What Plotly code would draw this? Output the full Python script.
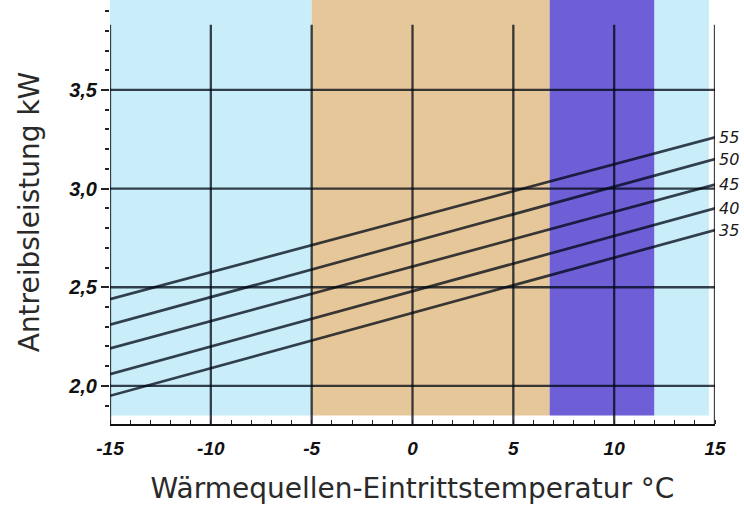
import plotly.graph_objects as go

# ---- data ----
x_ends = [-15, 15]
series_names = ["35", "40", "45", "50", "55"]
series_35 = [1.95, 2.79]
series_40 = [2.06, 2.90]
series_45 = [2.19, 3.02]
series_50 = [2.31, 3.15]
series_55 = [2.44, 3.26]
series_values = [series_35, series_40, series_45, series_50, series_55]

x_tick_vals = [-15, -10, -5, 0, 5, 10, 15]
x_tick_labels = ["-15", "-10", "-5", "0", "5", "10", "15"]
y_tick_vals = [2.0, 2.5, 3.0, 3.5]
y_tick_labels = ["2,0", "2,5", "3,0", "3,5"]

band_edges = [-15, -5, 6.8, 12, 14.7]
band_colors = ["#c9eef9", "#e6c799", "#6f5fd7", "#c9eef9"]

x_range = [-15, 15]
y_range = [1.807, 3.956]
grid_top = 3.83
band_bottom = 1.85

ink = "rgba(0,8,20,0.76)"

fig = go.Figure()

for name, vals in zip(series_names, series_values):
    fig.add_trace(go.Scatter(x=x_ends, y=vals, mode="lines", name=name,
                             line=dict(color=ink, width=2.7),
                             showlegend=False, hoverinfo="skip", cliponaxis=False))
    fig.add_annotation(x=x_ends[-1], y=vals[-1], text=name, showarrow=False,
                       xanchor="left", yanchor="middle", xshift=2,
                       font=dict(family="DejaVu Sans", size=16, color="#1a1a1a",
                                 style="italic"))

shapes = []
for i, c in enumerate(band_colors):
    shapes.append(dict(type="rect", xref="x", yref="y", x0=band_edges[i], x1=band_edges[i + 1],
                       y0=band_bottom, y1=y_range[1], fillcolor=c, line=dict(width=0),
                       layer="below"))
for xv in x_tick_vals:
    shapes.append(dict(type="line", xref="x", yref="y", x0=xv, x1=xv,
                       y0=y_range[0], y1=grid_top, line=dict(color=ink, width=2.3),
                       layer="below"))
for yv in y_tick_vals:
    shapes.append(dict(type="line", xref="x", yref="y", x0=x_range[0], x1=x_range[1],
                       y0=yv, y1=yv, line=dict(color=ink, width=2.3), layer="below"))

fig.update_layout(
    width=744, height=515,
    margin=dict(l=110, r=29, t=0, b=91),
    paper_bgcolor="white", plot_bgcolor="white",
    separators=",.",
    shapes=shapes,
    xaxis=dict(range=x_range, tickvals=x_tick_vals, ticktext=x_tick_labels,
               showgrid=False, zeroline=False, showline=True, linecolor="#111", linewidth=2.4,
               ticks="", ticklabelstandoff=6,
               minor=dict(dtick=1, tick0=0, ticks="inside", ticklen=4, tickcolor="#222",
                          showgrid=False),
               tickfont=dict(family="Liberation Sans", size=19, color="#111",
                             style="italic", weight="bold"),
               title=dict(text="Wärmequellen-Eintrittstemperatur °C", standoff=20,
                          font=dict(family="DejaVu Sans", size=28, color="#2a2a2a"))),
    yaxis=dict(range=y_range, tickvals=y_tick_vals, ticktext=y_tick_labels,
               showgrid=False, zeroline=False, showline=False,
               ticks="outside", ticklen=8, tickwidth=2, tickcolor="#222",
               minor=dict(dtick=0.1, tick0=0, ticks="outside", ticklen=4, tickcolor="#222",
                          tickwidth=2, showgrid=False),
               tickfont=dict(family="Liberation Sans", size=20, color="#111",
                             style="italic", weight="bold"),
               title=dict(text="Antreibsleistung kW", standoff=20,
                          font=dict(family="DejaVu Sans", size=28, color="#2a2a2a"))),
)

fig.write_html("out.html", config={"displayModeBar": False},
               post_script="document.body.style.margin='0';")
